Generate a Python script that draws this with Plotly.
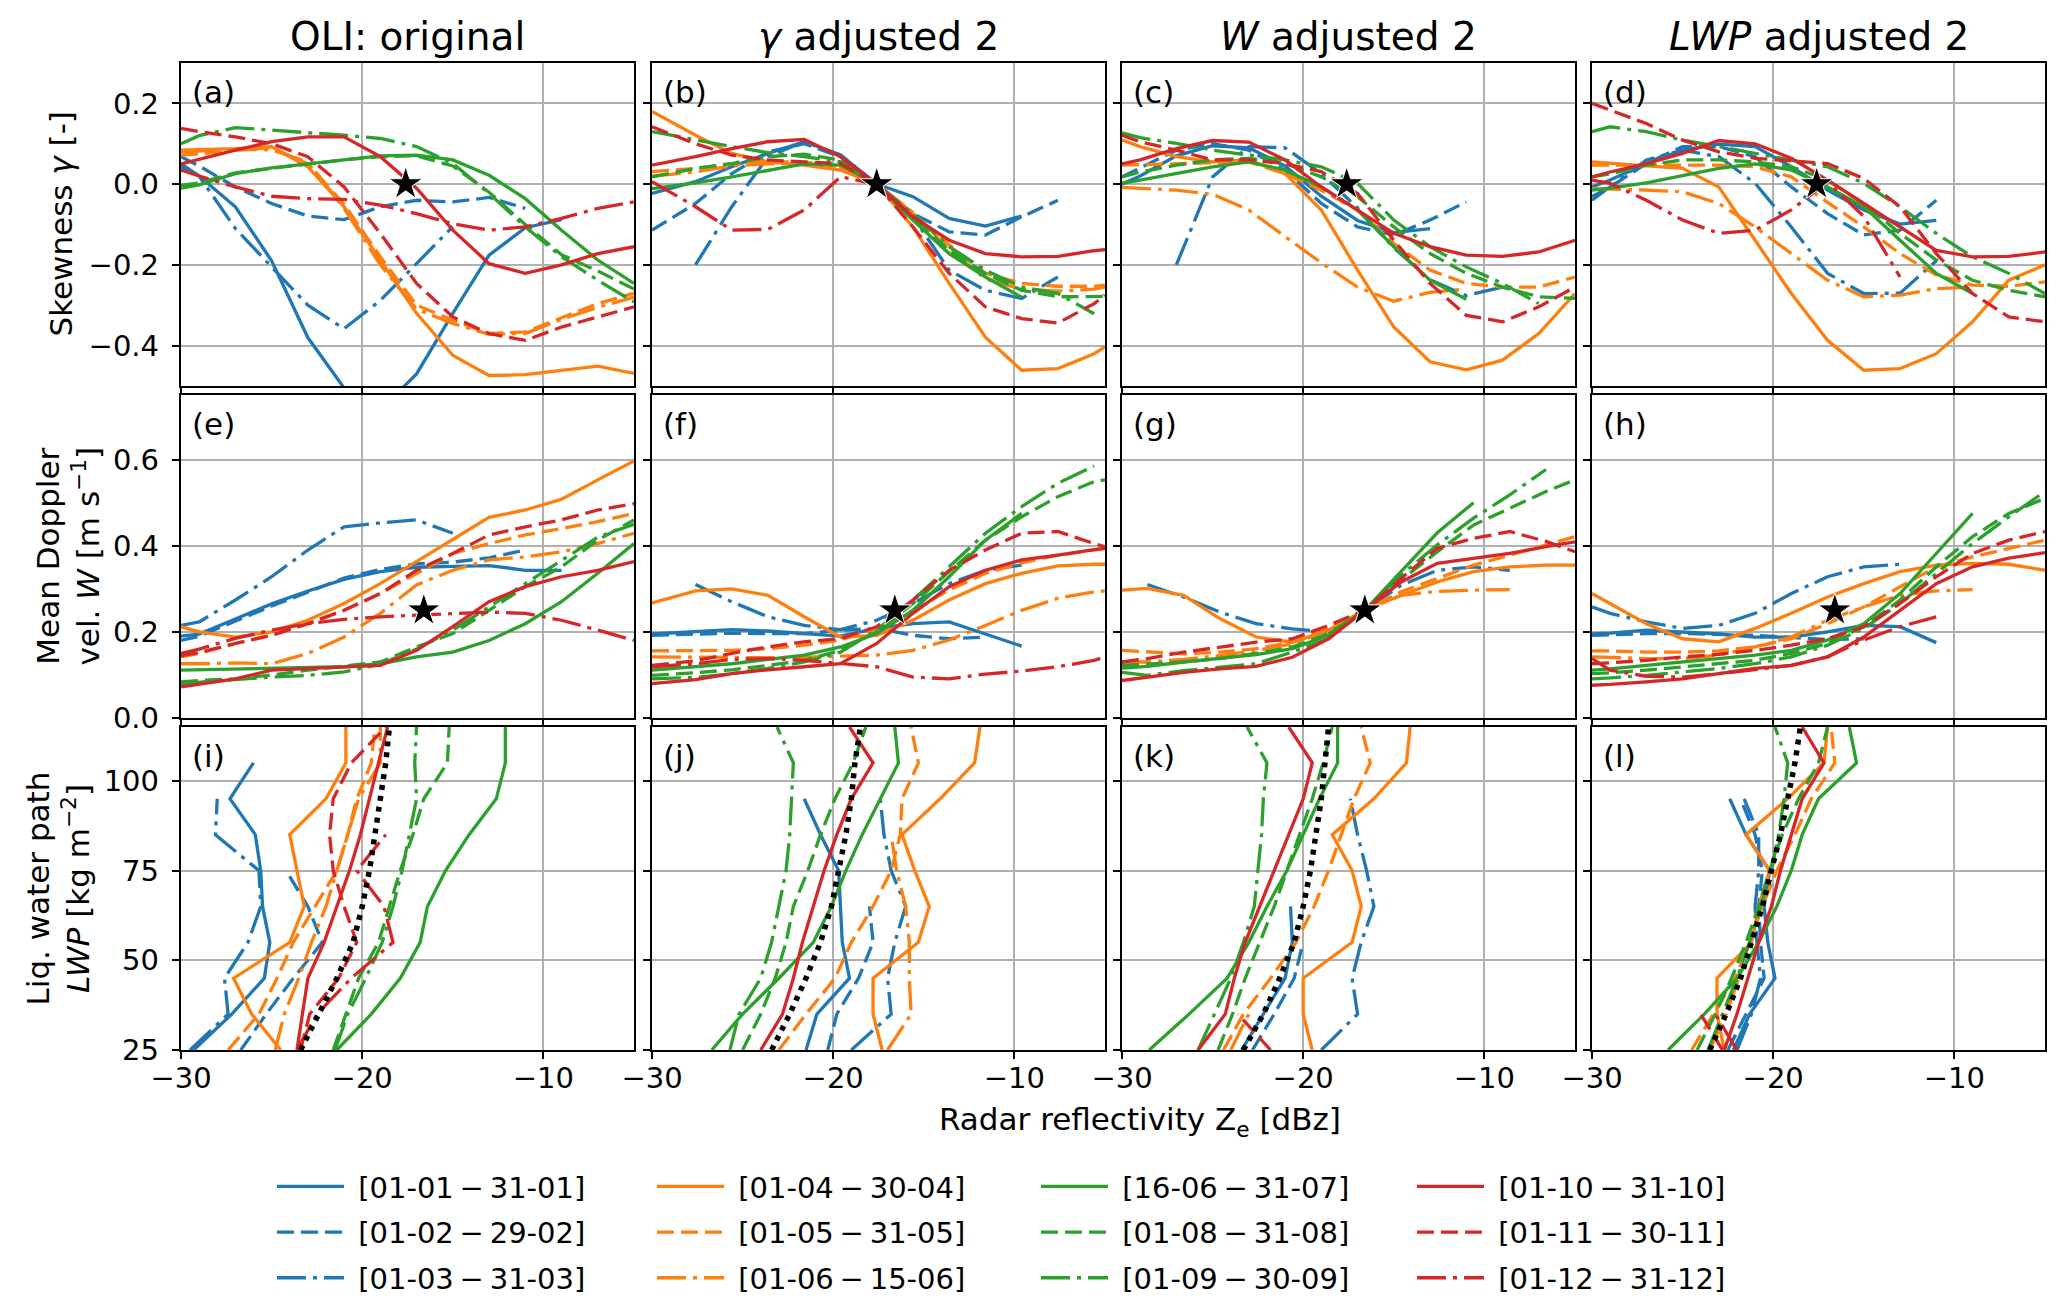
import plotly.graph_objects as go

# ---------------- data ----------------
ZE = [-30, -29, -27, -25, -23, -21, -19, -17, -15, -13, -11, -9, -7, -5]
ZE_B = [-30, -27.6, -25.6, -23.6, -21.6, -19.6, -17.6, -15.6, -13.6, -11.6, -9.6, -7.6, -5.6, -5]
ZE_G = [-30, -28.6, -26.6, -24.6, -22.6, -20.6, -18.6, -16.6, -14.6, -12.6, -10.6, -8.6, -6.6, -5]
LWP = [25, 35, 45, 55, 65, 75, 85, 95, 105, 115]

LABELS = ["[01-01\u2009\u2212\u200931-01]", "[01-02\u2009\u2212\u200929-02]", "[01-03\u2009\u2212\u200931-03]",
          "[01-04\u2009\u2212\u200930-04]", "[01-05\u2009\u2212\u200931-05]", "[01-06\u2009\u2212\u200915-06]",
          "[16-06\u2009\u2212\u200931-07]", "[01-08\u2009\u2212\u200931-08]", "[01-09\u2009\u2212\u200930-09]",
          "[01-10\u2009\u2212\u200931-10]", "[01-11\u2009\u2212\u200930-11]", "[01-12\u2009\u2212\u200931-12]"]
COL_TITLES = ["OLI: original", "<i>\u03b3</i> adjusted 2", "<i>W</i> adjusted 2", "<i>LWP</i> adjusted 2"]
PANEL_TAGS = ["(a)", "(b)", "(c)", "(d)", "(e)", "(f)", "(g)", "(h)", "(i)", "(j)", "(k)", "(l)"]
STAR_GAMMA = [-17.6, 0.0]
STAR_W = [-16.6, 0.25]

N = None
# skewness, panels a-d (series in LABELS order)
SKEW_A = [
    [0.043, 0.02, -0.056, -0.19, -0.38, -0.505, -0.56, -0.47, -0.32, -0.176, -0.108, -0.088, N, N],
    [0.068, 0.045, -0.007, -0.048, -0.079, -0.088, -0.056, -0.04, -0.044, -0.033, -0.06, N, N, N],
    [0.05, 0.02, -0.11, -0.205, -0.30, -0.358, -0.288, -0.197, -0.105, N, N, N, N, N],
    [0.084, 0.085, 0.088, 0.093, 0.043, -0.056, -0.188, -0.32, -0.424, -0.474, -0.472, -0.461, -0.451, -0.469],
    [0.072, 0.075, 0.084, 0.09, 0.05, -0.05, -0.18, -0.30, -0.337, -0.37, -0.366, -0.33, -0.296, -0.27],
    [0.08, 0.082, 0.086, 0.085, 0.055, -0.06, -0.20, -0.31, -0.345, -0.372, -0.37, -0.335, -0.305, -0.28],
    [-0.01, -0.002, 0.026, 0.04, 0.05, 0.06, 0.07, 0.072, 0.06, 0.022, -0.036, -0.114, -0.188, -0.246],
    [-0.003, 0.003, 0.028, 0.04, 0.05, 0.06, 0.068, 0.07, 0.045, -0.02, -0.1, -0.175, -0.215, -0.26],
    [0.10, 0.12, 0.14, 0.134, 0.126, 0.121, 0.113, 0.093, 0.051, -0.023, -0.106, -0.18, -0.238, -0.292],
    [0.05, 0.062, 0.084, 0.105, 0.117, 0.117, 0.068, -0.01, -0.114, -0.197, -0.221, -0.2, -0.172, -0.155],
    [0.138, 0.13, 0.117, 0.1, 0.068, -0.007, -0.122, -0.246, -0.329, -0.37, -0.387, -0.354, -0.329, -0.304],
    [0.035, 0.02, -0.007, -0.03, -0.036, -0.038, -0.052, -0.073, -0.098, -0.114, -0.106, -0.085, -0.06, -0.044],
]
SKEW_B = [
    [-0.023, 0.006, 0.043, 0.076, 0.105, 0.072, 0.0, -0.031, -0.085, -0.104, -0.079, N, N, N],
    [-0.114, -0.048, 0.026, 0.08, 0.1, 0.068, 0.0, -0.073, -0.118, -0.126, -0.081, -0.04, N, N],
    [N, -0.2, -0.056, 0.068, 0.105, 0.072, 0.0, -0.081, -0.213, -0.263, -0.283, -0.23, N, N],
    [0.18, 0.121, 0.076, 0.055, 0.047, 0.035, 0.0, -0.106, -0.246, -0.379, -0.461, -0.457, -0.42, -0.403],
    [0.031, 0.039, 0.05, 0.055, 0.055, 0.043, 0.0, -0.073, -0.151, -0.221, -0.246, -0.253, -0.253, -0.25],
    [0.02, 0.03, 0.045, 0.05, 0.05, 0.04, 0.0, -0.07, -0.16, -0.235, -0.26, -0.265, -0.26, -0.255],
    [-0.011, 0.003, 0.018, 0.035, 0.05, 0.047, 0.0, -0.089, -0.172, -0.23, -0.28, N, N, N],
    [0.018, 0.039, 0.051, 0.068, 0.074, 0.06, 0.0, -0.081, -0.164, -0.221, -0.263, -0.279, -0.279, -0.278],
    [0.13, 0.109, 0.093, 0.078, 0.068, 0.055, 0.0, -0.073, -0.155, -0.213, -0.255, -0.271, -0.321, N],
    [0.047, 0.068, 0.088, 0.105, 0.111, 0.068, 0.0, -0.081, -0.139, -0.172, -0.18, -0.179, -0.165, -0.162],
    [0.142, 0.1, 0.072, 0.06, 0.055, 0.051, 0.0, -0.106, -0.221, -0.304, -0.333, -0.344, -0.296, -0.275],
    [0.006, -0.056, -0.114, -0.112, -0.064, 0.018, 0.0, N, N, N, N, N, N, N],
]
SKEW_C = [
    [0.0, 0.02, 0.07, 0.095, 0.09, 0.045, -0.03, -0.09, -0.12, -0.11, N, N, N, N],
    [0.018, 0.04, 0.084, 0.1, 0.084, 0.035, -0.048, -0.106, -0.126, -0.089, -0.044, N, N, N],
    [N, N, -0.2, 0.018, 0.093, 0.09, 0.026, -0.059, -0.158, -0.237, -0.276, -0.255, N, N],
    [0.109, 0.093, 0.068, 0.055, 0.06, 0.026, -0.064, -0.213, -0.354, -0.44, -0.46, -0.436, -0.37, -0.271],
    [0.047, 0.048, 0.051, 0.051, 0.055, 0.026, -0.015, -0.064, -0.147, -0.213, -0.246, -0.255, -0.255, -0.23],
    [-0.008, -0.01, -0.015, -0.025, -0.064, -0.13, -0.195, -0.255, -0.29, -0.268, -0.26, N, N, N],
    [0.002, 0.01, 0.026, 0.043, 0.055, 0.035, -0.007, -0.064, -0.155, -0.238, -0.285, N, N, N],
    [0.018, 0.03, 0.047, 0.06, 0.064, 0.051, 0.018, -0.031, -0.106, -0.172, -0.221, -0.255, -0.279, -0.283],
    [0.127, 0.115, 0.101, 0.084, 0.072, 0.06, 0.043, 0.002, -0.089, -0.155, -0.205, -0.246, -0.296, N],
    [0.05, 0.06, 0.088, 0.108, 0.104, 0.06, -0.007, -0.064, -0.122, -0.155, -0.176, -0.179, -0.168, -0.139],
    [0.121, 0.105, 0.084, 0.06, 0.06, 0.051, 0.031, -0.023, -0.139, -0.246, -0.325, -0.341, -0.304, -0.255],
    [],
]
SKEW_D = [
    [-0.007, 0.01, 0.051, 0.084, 0.099, 0.093, 0.043, -0.015, -0.064, -0.099, -0.09, N, N, N],
    [-0.031, -0.007, 0.051, 0.093, 0.093, 0.068, -0.007, -0.073, -0.126, -0.114, -0.04, N, N, N],
    [-0.04, -0.007, 0.06, 0.084, 0.068, 0.002, -0.106, -0.221, -0.271, -0.27, -0.19, N, N, N],
    [0.055, 0.051, 0.045, 0.039, -0.007, -0.139, -0.271, -0.387, -0.461, -0.457, -0.42, -0.341, -0.238, -0.2],
    [0.047, 0.047, 0.047, 0.047, 0.047, 0.043, 0.018, -0.045, -0.106, -0.172, -0.225, -0.25, -0.253, -0.242],
    [-0.011, -0.012, -0.015, -0.019, -0.048, -0.106, -0.172, -0.238, -0.279, -0.275, -0.259, -0.255, N, N],
    [-0.015, -0.01, 0.003, 0.022, 0.039, 0.05, 0.035, -0.007, -0.056, -0.139, -0.221, -0.271, N, N],
    [0.018, 0.025, 0.047, 0.06, 0.06, 0.055, 0.043, 0.01, -0.048, -0.122, -0.188, -0.238, -0.263, -0.279],
    [0.13, 0.142, 0.13, 0.109, 0.093, 0.076, 0.06, 0.043, 0.002, -0.056, -0.122, -0.18, -0.221, -0.271],
    [0.018, 0.03, 0.051, 0.076, 0.108, 0.1, 0.064, 0.01, -0.048, -0.106, -0.164, -0.18, -0.179, -0.168],
    [0.2, 0.183, 0.15, 0.109, 0.08, 0.064, 0.058, 0.051, 0.014, -0.056, -0.172, -0.271, -0.329, -0.341],
    [0.01, 0.002, -0.04, -0.089, -0.122, -0.114, -0.064, 0.006, -0.08, -0.23, N, N, N, N],
]
# mean Doppler velocity, panels e-h
VEL_E = [
    [0.19, 0.195, 0.23, 0.265, 0.295, 0.322, 0.34, 0.35, 0.352, 0.354, 0.343, 0.343, N, N],
    [0.18, 0.19, 0.225, 0.26, 0.292, 0.325, 0.345, 0.358, 0.362, 0.372, 0.39, N, N, N],
    [0.215, 0.223, 0.274, 0.328, 0.39, 0.444, 0.453, 0.46, 0.429, N, N, N, N, N],
    [0.212, 0.2, 0.188, 0.2, 0.227, 0.266, 0.312, 0.363, 0.413, 0.466, 0.483, 0.508, 0.553, 0.597],
    [0.142, 0.15, 0.173, 0.192, 0.219, 0.25, 0.289, 0.336, 0.382, 0.405, 0.425, 0.44, 0.456, 0.475],
    [0.126, 0.126, 0.128, 0.126, 0.15, 0.188, 0.243, 0.309, 0.343, 0.367, 0.374, 0.386, 0.405, 0.429],
    [0.111, 0.112, 0.113, 0.115, 0.117, 0.119, 0.126, 0.142, 0.153, 0.18, 0.219, 0.27, 0.336, 0.405],
    [0.084, 0.087, 0.091, 0.1, 0.111, 0.12, 0.13, 0.165, 0.196, 0.25, 0.305, 0.351, 0.413, 0.46],
    [0.08, 0.083, 0.09, 0.095, 0.099, 0.107, 0.125, 0.16, 0.204, 0.258, 0.312, 0.367, 0.42, 0.45],
    [0.072, 0.078, 0.091, 0.111, 0.115, 0.119, 0.122, 0.157, 0.212, 0.27, 0.305, 0.328, 0.343, 0.363],
    [0.145, 0.152, 0.173, 0.192, 0.219, 0.25, 0.289, 0.343, 0.382, 0.425, 0.444, 0.46, 0.483, 0.498],
    [0.15, 0.16, 0.185, 0.204, 0.219, 0.229, 0.235, 0.239, 0.243, 0.246, 0.243, 0.227, 0.204, 0.18],
]
VEL_F = [
    [0.195, 0.2, 0.205, 0.202, 0.196, 0.19, 0.208, 0.219, 0.223, 0.196, 0.167, N, N, N],
    [0.192, 0.195, 0.197, 0.196, 0.196, 0.204, 0.208, 0.192, 0.184, 0.188, N, N, N, N],
    [N, 0.31, 0.27, 0.235, 0.215, 0.205, 0.227, 0.266, 0.312, 0.343, 0.355, N, N, N],
    [0.267, 0.295, 0.3, 0.285, 0.235, 0.188, 0.192, 0.227, 0.274, 0.312, 0.336, 0.353, 0.357, 0.357],
    [0.156, 0.156, 0.157, 0.161, 0.169, 0.181, 0.208, 0.25, 0.297, 0.336, 0.36, 0.378, 0.391, 0.394],
    [0.142, 0.141, 0.141, 0.14, 0.141, 0.143, 0.146, 0.157, 0.181, 0.215, 0.25, 0.278, 0.293, 0.295],
    [0.111, 0.119, 0.126, 0.136, 0.146, 0.165, 0.196, 0.25, 0.328, 0.413, 0.475, N, N, N],
    [0.099, 0.105, 0.112, 0.122, 0.134, 0.157, 0.2, 0.266, 0.34, 0.413, 0.467, 0.514, 0.549, 0.553],
    [0.091, 0.094, 0.103, 0.115, 0.13, 0.153, 0.204, 0.274, 0.351, 0.429, 0.491, 0.545, 0.585, N],
    [0.08, 0.089, 0.103, 0.112, 0.119, 0.126, 0.173, 0.243, 0.305, 0.343, 0.367, 0.378, 0.391, 0.394],
    [0.122, 0.133, 0.15, 0.165, 0.177, 0.184, 0.212, 0.274, 0.343, 0.39, 0.429, 0.433, 0.405, 0.398],
    [0.119, 0.126, 0.136, 0.138, 0.134, 0.126, 0.119, 0.095, 0.091, 0.102, 0.109, 0.119, 0.134, 0.142],
]
VEL_G = [
    [],
    [],
    [N, 0.31, 0.281, 0.246, 0.219, 0.207, 0.2, 0.25, 0.308, 0.343, 0.351, 0.343, N, N],
    [0.297, 0.301, 0.285, 0.231, 0.188, 0.176, 0.204, 0.25, 0.285, 0.316, 0.34, 0.351, 0.355, 0.355],
    [0.157, 0.153, 0.149, 0.153, 0.161, 0.176, 0.207, 0.25, 0.293, 0.324, 0.355, 0.378, 0.402, 0.421],
    [0.13, 0.13, 0.136, 0.145, 0.157, 0.172, 0.204, 0.25, 0.285, 0.294, 0.297, 0.298, N, N],
    [0.116, 0.12, 0.13, 0.138, 0.147, 0.161, 0.192, 0.25, 0.34, 0.43, 0.5, N, N, N],
    [0.122, 0.125, 0.13, 0.138, 0.15, 0.165, 0.196, 0.25, 0.32, 0.386, 0.448, 0.487, 0.526, 0.553],
    [0.106, 0.099, 0.11, 0.118, 0.126, 0.153, 0.184, 0.25, 0.332, 0.402, 0.464, 0.518, 0.577, N],
    [0.087, 0.095, 0.106, 0.114, 0.12, 0.141, 0.184, 0.25, 0.316, 0.359, 0.371, 0.382, 0.398, 0.409],
    [0.13, 0.138, 0.153, 0.165, 0.176, 0.184, 0.215, 0.25, 0.324, 0.394, 0.417, 0.433, 0.41, 0.386],
    [],
]
VEL_H = [
    [0.195, 0.197, 0.204, 0.2, 0.195, 0.188, 0.188, 0.2, 0.215, 0.212, 0.175, N, N, N],
    [0.192, 0.193, 0.196, 0.196, 0.194, 0.192, 0.187, 0.182, 0.184, N, N, N, N, N],
    [0.258, 0.243, 0.223, 0.208, 0.215, 0.243, 0.289, 0.328, 0.351, 0.357, N, N, N, N],
    [0.289, 0.266, 0.219, 0.184, 0.177, 0.208, 0.243, 0.281, 0.312, 0.34, 0.355, 0.359, 0.357, 0.343],
    [0.156, 0.156, 0.153, 0.153, 0.156, 0.165, 0.184, 0.219, 0.258, 0.305, 0.351, 0.374, 0.394, 0.413],
    [0.142, 0.141, 0.138, 0.138, 0.146, 0.165, 0.188, 0.227, 0.258, 0.285, 0.295, 0.298, N, N],
    [0.111, 0.114, 0.122, 0.13, 0.138, 0.146, 0.157, 0.181, 0.219, 0.289, 0.382, 0.475, N, N],
    [0.103, 0.105, 0.111, 0.119, 0.126, 0.134, 0.15, 0.173, 0.212, 0.274, 0.351, 0.421, 0.475, 0.51],
    [0.091, 0.093, 0.099, 0.107, 0.115, 0.126, 0.142, 0.169, 0.208, 0.266, 0.336, 0.405, 0.467, 0.526],
    [0.076, 0.078, 0.084, 0.091, 0.103, 0.115, 0.122, 0.142, 0.188, 0.25, 0.312, 0.351, 0.371, 0.384],
    [0.126, 0.128, 0.134, 0.142, 0.148, 0.157, 0.169, 0.184, 0.212, 0.266, 0.328, 0.382, 0.413, 0.433],
    [0.138, 0.111, 0.097, 0.095, 0.103, 0.112, 0.122, 0.142, 0.181, 0.212, 0.235, N, N, N],
]
# radar reflectivity per LWP level, panels i-l
ZE_I = [
    [-29.3, -27.2, -25.4, -25.1, -25.5, -25.6, -25.9, -27.3, -26.0, N],
    [-26.7, -25.3, -23.8, -22.2, -23.0, -24.2, N, N, N, N],
    [-29.5, -27.4, -27.6, -26.3, -25.6, -25.7, -28.1, -28.0, N, N],
    [-24.5, -26.1, -27.1, -24.0, -23.2, -23.6, -24.0, -22.0, -20.9, -20.9],
    [-27.4, -25.7, -24.7, -23.8, -22.6, -21.4, -20.8, -20.3, -19.5, -19.3],
    [-24.8, -24.3, -23.5, -22.8, -22.0, -21.4, -20.8, -20.2, -19.0, -19.0],
    [-21.4, -19.5, -17.9, -16.8, -16.4, -15.4, -14.1, -12.6, -12.1, -12.1],
    [-21.6, -20.9, -20.2, -19.1, -18.5, -17.9, -17.2, -16.6, -15.3, -15.2],
    [-21.5, -20.8, -19.8, -18.9, -18.3, -17.8, -17.4, -17.0, -17.1, -17.0],
    [-23.6, -23.3, -23.0, -22.1, -21.4, -20.7, -20.1, -19.6, -19.1, -18.6],
    [-23.4, -22.9, -21.3, -20.3, -21.0, -21.6, -21.8, -21.6, -20.6, -18.7],
    [-23.6, -22.5, -20.6, -18.3, -18.8, -20.3, -18.7, N, N, N],
]
ZE_J = [
    [-21.5, -20.9, -19.1, -19.5, -19.6, -19.7, -20.7, -21.6, N, N],
    [-20.3, -19.8, -18.6, -17.8, -18.0, N, N, N, N, N],
    [-19.0, -16.8, -17.0, -16.6, -16.0, -16.8, -17.2, -17.4, N, N],
    [-17.3, -17.8, -17.8, -15.3, -14.7, -15.5, -16.2, -14.1, -12.2, -11.9],
    [-23.0, -21.5, -19.9, -19.0, -17.8, -16.8, -16.3, -16.2, -15.3, -15.7],
    [-17.0, -15.7, -15.8, -15.8, -16.0, -16.5, -16.8, N, N, N],
    [-26.7, -25.0, -23.0, -21.1, -20.1, -19.3, -18.4, -17.4, -16.4, -16.6],
    [-25.0, -24.0, -23.2, -22.6, -22.2, -21.4, -20.7, -19.9, -18.9, -18.2],
    [-25.7, -25.2, -24.0, -23.4, -23.0, -22.6, -22.4, -22.3, -22.2, -23.1],
    [-24.0, -22.8, -22.2, -21.7, -21.1, -20.5, -19.8, -19.0, -17.8, -19.1],
    [],
    [],
]
ZE_K = [
    [-23.4, -22.2, -21.0, -20.6, -20.7, N, N, N, N, N],
    [-22.8, -21.6, -20.5, -20.0, N, N, N, N, N, N],
    [-19.0, -17.0, -17.3, -16.8, -16.1, -16.5, -17.0, -17.4, N, N],
    [-19.5, -20.0, -20.0, -17.3, -16.8, -17.3, -18.4, -16.1, -14.3, -14.1],
    [-24.4, -23.3, -21.8, -20.4, -19.4, -18.6, -17.9, -17.2, -16.3, -16.8],
    [-24.0, -23.0, N, N, N, N, N, N, N, N],
    [-28.5, -26.3, -24.2, -23.0, -22.0, -20.9, -20.0, -19.1, -18.1, -18.1],
    [-24.7, -23.9, -23.2, -22.4, -21.6, -20.9, -20.2, -19.5, -18.9, -18.4],
    [-25.8, -24.9, -24.0, -23.3, -22.7, -22.5, -22.3, -22.2, -22.0, -23.1],
    [-25.8, -24.3, -23.8, -23.2, -22.4, -21.6, -20.8, -20.0, -19.5, -20.8],
    [-21.8, -23.6, N, N, N, N, N, N, N, N],
    [],
]
ZE_L = [
    [-22.2, -21.3, -19.9, -20.3, -20.5, -20.2, -21.5, -22.4, N, N],
    [-22.5, -21.5, -20.5, -20.7, -20.8, -20.6, -21.0, -21.8, N, N],
    [-22.0, -21.2, -20.7, -20.9, -21.0, -20.8, -20.8, -21.6, N, N],
    [-22.7, -23.1, -23.1, -21.2, -20.8, -20.2, -21.5, -19.2, -17.2, -17.0],
    [-24.5, -23.3, -22.1, -21.3, -20.6, -19.8, -18.8, -17.9, -16.6, -16.8],
    [-23.5, -22.6, -21.9, N, N, N, N, N, N, N],
    [-25.8, -23.8, -22.0, -20.8, -19.8, -19.0, -18.4, -17.5, -15.4, -15.8],
    [-24.2, -23.2, -22.3, -21.5, -20.8, -20.2, -19.5, -18.6, -17.5, -17.0],
    [-23.6, -22.8, -22.0, -21.3, -20.7, -20.1, -19.7, -19.4, -19.2, -19.9],
    [-22.7, -22.0, -21.4, -20.8, -20.1, -19.6, -19.0, -18.4, -17.2, -18.4],
    [-22.8, -24.0, N, N, N, N, N, N, N, N],
    [-22.0, -23.2, N, N, N, N, N, N, N, N],
]
# black dotted reference lines, panels i-l
REF_I = [-23.4, -22.4, -21.4, -20.5, -20.0, -19.6, -19.3, -19.0, -18.7, -18.5]
REF_J = [-23.4, -22.4, -21.5, -20.7, -20.1, -19.7, -19.3, -19.0, -18.8, -18.5]
REF_K = [-23.3, -22.2, -21.3, -20.5, -20.0, -19.6, -19.3, -19.0, -18.8, -18.6]
REF_L = [-23.5, -22.6, -21.8, -21.2, -20.6, -20.1, -19.6, -19.2, -18.8, -18.5]

# ---------------- styling ----------------
W, H = 2067, 1311
FONT = "DejaVu Sans"
COLORS = ["#1f77b4", "#ff7f0e", "#2ca02c", "#d62728"]
DASHES = ["solid", "17px,7px", "29px,7px,4px,7px"]
LEGENDS = ["legend", "legend2", "legend3", "legend4"]
COL_X = [(181, 634), (652, 1105), (1122, 1575), (1592, 2045)]
ROW_Y = [(63, 386), (395, 718), (727, 1050)]
Y_RANGES = [[-0.5, 0.3], [0.0, 0.75], [25, 115]]
Y_TICKS = [([-0.4, -0.2, 0.0, 0.2], ["\u22120.4", "\u22120.2", "0.0", "0.2"]),
           ([0.0, 0.2, 0.4, 0.6], ["0.0", "0.2", "0.4", "0.6"]),
           ([25, 50, 75, 100], ["25", "50", "75", "100"])]
X_TICKS = ([-30, -20, -10], ["\u221230", "\u221220", "\u221210"])

PANELS = [(SKEW_A, ZE), (SKEW_B, ZE_B), (SKEW_C, ZE), (SKEW_D, ZE),
          (VEL_E, ZE), (VEL_F, ZE_B), (VEL_G, ZE_G), (VEL_H, ZE),
          (ZE_I, None), (ZE_J, None), (ZE_K, None), (ZE_L, None)]
REFS = [REF_I, REF_J, REF_K, REF_L]

fig = go.Figure()


def axnames(p):
    return ("x" if p == 0 else f"x{p+1}", "y" if p == 0 else f"y{p+1}")


for p, (vals, grid) in enumerate(PANELS):
    r, c = divmod(p, 4)
    xa, ya = axnames(p)
    for s, series in enumerate(vals):
        if not series:
            continue
        if r < 2:
            xs, ys = grid, series
        else:
            xs, ys = series, LWP
        fig.add_trace(go.Scatter(
            x=xs, y=ys, mode="lines", name="\u00a0" + LABELS[s],
            line=dict(color=COLORS[s // 3], width=3.3, dash=DASHES[s % 3]),
            legend=LEGENDS[s // 3], legendgroup=f"g{s}", showlegend=(p == 0),
            xaxis=xa, yaxis=ya, hoverinfo="skip", connectgaps=False))
    if r == 2:
        fig.add_trace(go.Scatter(
            x=REFS[c], y=LWP, mode="lines", showlegend=False,
            line=dict(color="black", width=5.5, dash="5px,6px"),
            xaxis=xa, yaxis=ya, hoverinfo="skip"))
    else:
        star = STAR_GAMMA if r == 0 else STAR_W
        fig.add_trace(go.Scatter(
            x=[star[0]], y=[star[1]], mode="markers", showlegend=False,
            marker=dict(symbol="star", size=25, color="black",
                        line=dict(color="white", width=1)),
            xaxis=xa, yaxis=ya, hoverinfo="skip"))

layout = dict(
    template="none",
    width=W, height=H, margin=dict(l=0, r=0, t=0, b=0, pad=0, autoexpand=False),
    autosize=False, paper_bgcolor="white", plot_bgcolor="white",
    font=dict(family=FONT, color="black", size=29),
)
for p in range(12):
    r, c = divmod(p, 4)
    xa, ya = axnames(p)
    x0, x1 = COL_X[c]
    y0, y1 = ROW_Y[r]
    common = dict(showline=True, mirror=True, linecolor="black", linewidth=2.4,
                  ticks="outside", ticklen=7, tickwidth=2, tickcolor="black",
                  showgrid=True, gridcolor="#b0b0b0", gridwidth=1.6,
                  zeroline=False, automargin=False,
                  tickfont=dict(size=29, family=FONT, color="black"))
    layout["xaxis" if p == 0 else f"xaxis{p+1}"] = dict(
        domain=[x0 / W, x1 / W], range=[-30, -5], anchor=ya,
        tickmode="array", tickvals=X_TICKS[0], ticktext=X_TICKS[1],
        showticklabels=(r == 2), ticklabelstandoff=-6, **common)
    layout["yaxis" if p == 0 else f"yaxis{p+1}"] = dict(
        domain=[1 - y1 / H, 1 - y0 / H], range=Y_RANGES[r], anchor=xa,
        tickmode="array", tickvals=Y_TICKS[r][0], ticktext=Y_TICKS[r][1],
        showticklabels=(c == 0), ticklabelstandoff=7, **common)

LEG_X = [272, 652, 1036, 1412]
for k in range(4):
    layout[LEGENDS[k]] = dict(
        x=LEG_X[k] / W, y=1 - 1161 / H, xanchor="left", yanchor="top",
        orientation="v", itemwidth=67, bgcolor="rgba(0,0,0,0)", borderwidth=0,
        tracegroupgap=5, font=dict(size=29, family=FONT, color="black"),
        traceorder="grouped")

ann = []
for c in range(4):
    x0, x1 = COL_X[c]
    ann.append(dict(text=COL_TITLES[c], x=(x0 + x1) / 2 / W, y=1 - 36 / H,
                    xref="paper", yref="paper", xanchor="center", yanchor="middle",
                    showarrow=False, font=dict(size=39, family=FONT, color="black")))
for p in range(12):
    r, c = divmod(p, 4)
    ann.append(dict(text=PANEL_TAGS[p], x=(COL_X[c][0] + 9) / W,
                    y=1 - (ROW_Y[r][0] + 29) / H, xref="paper", yref="paper",
                    xanchor="left", yanchor="middle", showarrow=False,
                    font=dict(size=31, family=FONT, color="black")))
YLABELS = ["Skewness <i>\u03b3</i> [-]",
           "Mean Doppler<br>vel. <i>W</i> [m s<sup>\u22121</sup>]",
           "Liq. water path<br><i>LWP</i> [kg m<sup>\u22122</sup>]"]
YLAB_X = [60, 67, 57]
for r in range(3):
    ann.append(dict(text=YLABELS[r], x=YLAB_X[r] / W,
                    y=1 - (ROW_Y[r][0] + ROW_Y[r][1]) / 2 / H,
                    xref="paper", yref="paper", xanchor="center", yanchor="middle",
                    textangle=-90, showarrow=False,
                    font=dict(size=31, family=FONT, color="black")))
ann.append(dict(text="Radar reflectivity Z<sub>e</sub> [dBz]", x=1140 / W, y=1 - 1121 / H,
                xref="paper", yref="paper", xanchor="center", yanchor="middle",
                showarrow=False, font=dict(size=31, family=FONT, color="black")))
layout["annotations"] = ann

fig.update_layout(**layout)
fig.write_html("out.html", config={"displayModeBar": False},
               post_script="document.body.style.margin='0';document.body.style.overflow='hidden';")
